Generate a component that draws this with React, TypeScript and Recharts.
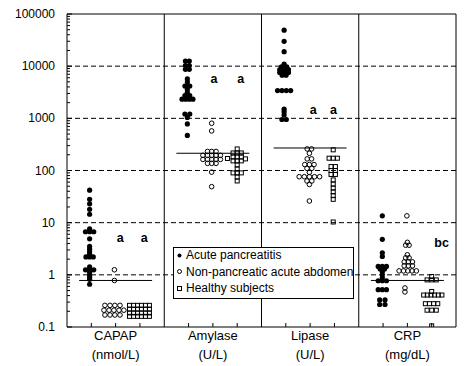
import React from 'react';
import { ScatterChart, Scatter, XAxis, YAxis, ReferenceLine, Legend } from 'recharts';

const FONT = '"Liberation Sans", Arial, sans-serif';

// panels and groups
const panelNames = ['CAPAP', 'Amylase', 'Lipase', 'CRP'];
const panelUnits = ['(nmol/L)', '(U/L)', '(U/L)', '(mg/dL)'];
const panelCenters = [2, 6, 10, 14];
const groupNames = ['Acute pancreatitis', 'Non-pancreatic acute abdomen', 'Healthy subjects'];

// [x position, value]  (x: panel*4 + column 1..3, with jitter)
const capapAcute = [
  [0.93, 42], [0.93, 28], [0.93, 23], [0.93, 18], [0.93, 14.5],
  [0.93, 7.6], [0.76, 6.7], [0.93, 6.7], [1.1, 6.7],
  [0.93, 4.9],
  [0.93, 3.5], [0.93, 3.1], [0.93, 2.75], [0.93, 2.45], [0.78, 2.2], [0.93, 2.2], [1.08, 2.2],
  [0.93, 1.42], [0.76, 1.25], [0.93, 1.25], [1.1, 1.25], [0.93, 1.12], [0.93, 1.0], [0.93, 0.9], [0.93, 0.82],
  [0.93, 0.66],
];
const capapNonPanc = [
  [1.95, 1.25], [1.95, 0.78],
  [1.56, 0.26], [1.77, 0.26], [1.97, 0.26], [2.18, 0.26],
  [1.52, 0.21], [1.73, 0.21], [1.93, 0.21], [2.14, 0.21], [2.34, 0.21],
  [1.56, 0.17], [1.77, 0.17], [1.97, 0.17], [2.18, 0.17],
];
const capapHealthy = [
  [2.57, 0.26], [2.74, 0.26], [2.9, 0.26], [3.06, 0.26], [3.23, 0.26], [3.39, 0.26],
  [2.57, 0.22], [2.74, 0.22], [2.9, 0.22], [3.06, 0.22], [3.23, 0.22], [3.39, 0.22],
  [2.57, 0.186], [2.74, 0.186], [2.9, 0.186], [3.06, 0.186], [3.23, 0.186], [3.39, 0.186],
  [2.57, 0.16], [2.74, 0.16], [2.9, 0.16], [3.06, 0.16], [3.23, 0.16], [3.39, 0.16],
];

const amylaseAcute = [
  [4.87, 12500], [5.03, 12500], [4.87, 10300], [5.03, 10300], [4.87, 8700], [5.03, 8700],
  [4.95, 5700], [4.95, 4960], [4.85, 4170], [4.95, 4170], [5.05, 4170], [4.95, 3600], [4.95, 3150],
  [4.85, 2720], [4.95, 2720], [5.05, 2720],
  [4.73, 2330], [4.88, 2330], [5.03, 2330], [5.18, 2330],
  [4.85, 1210], [5.05, 1210], [4.95, 1040],
  [4.95, 780], [4.95, 470],
];
const amylaseNonPanc = [
  [5.95, 805], [5.95, 574],
  [5.78, 232], [5.95, 232], [6.13, 232],
  [5.59, 195], [5.78, 195], [5.95, 195], [6.13, 195], [6.31, 195],
  [5.59, 163], [5.78, 163], [5.95, 163], [6.13, 163], [6.31, 163],
  [5.78, 137], [5.95, 137], [6.13, 137],
  [5.95, 93], [5.95, 49],
];
const amylaseHealthy = [
  [7.0, 259], [7.0, 217], [7.0, 182], [7.0, 153], [7.0, 128], [7.0, 107], [7.0, 90], [7.0, 75], [7.0, 63],
  [6.83, 217], [6.83, 182], [6.83, 153], [6.83, 90],
  [7.17, 217], [7.17, 182], [7.17, 153], [7.17, 90],
  [7.34, 167], [6.6, 170],
];

const lipaseAcute = [
  [8.93, 49000], [8.93, 30000], [8.93, 19000],
  [8.93, 11000], [8.82, 9700], [8.93, 9700], [9.04, 9700],
  [8.75, 8600], [8.87, 8600], [8.99, 8600], [9.11, 8600],
  [8.75, 7600], [8.87, 7600], [8.99, 7600], [9.11, 7600],
  [8.85, 6700], [9.01, 6700],
  [8.66, 3400], [8.84, 3400], [9.02, 3400], [9.2, 3400],
  [8.93, 1500], [8.93, 1330], [8.93, 1160], [8.84, 950], [9.02, 950],
];
const lipaseNonPanc = [
  [9.88, 259], [10.06, 259], [9.97, 214], [9.88, 167], [10.06, 167],
  [9.78, 130], [9.97, 130], [10.16, 130],
  [9.87, 110], [10.07, 110], [9.97, 92],
  [9.55, 76], [9.76, 76], [9.97, 76], [10.18, 76], [10.39, 76],
  [9.87, 63], [10.07, 63], [9.97, 54], [9.97, 26],
];
const lipaseHealthy = [
  [10.95, 249], [10.78, 172], [10.95, 172], [11.12, 172],
  [10.86, 119], [11.04, 119], [10.86, 100], [11.04, 100], [10.86, 84], [11.04, 84],
  [10.95, 66], [10.95, 55], [10.95, 46], [10.95, 39], [10.95, 33], [10.95, 28],
  [10.95, 10.3],
];

const crpAcute = [
  [12.97, 13.5], [12.97, 4.8], [12.97, 2.65], [12.97, 2.25],
  [12.8, 1.45], [12.97, 1.45], [13.14, 1.45],
  [12.88, 1.3], [13.06, 1.3],
  [12.97, 1.14], [12.97, 1.0], [12.97, 0.88],
  [12.8, 0.77], [12.97, 0.77], [13.14, 0.77],
  [12.8, 0.52], [12.97, 0.52], [13.14, 0.52],
  [12.86, 0.33], [13.08, 0.33], [12.86, 0.27], [13.08, 0.27],
];
const crpNonPanc = [
  [13.98, 13.5],
  [14.0, 4.2], [13.93, 3.7], [14.07, 3.7],
  [14.0, 2.42], [13.93, 2.12], [14.07, 2.12],
  [13.87, 1.77], [14.04, 1.77], [14.21, 1.77],
  [13.87, 1.49], [14.04, 1.49], [14.21, 1.49],
  [13.66, 1.19], [13.84, 1.19], [14.02, 1.19], [14.19, 1.19], [14.37, 1.19],
  [13.9, 0.56], [13.9, 0.47],
];
const crpHealthy = [
  [15.0, 0.93], [14.81, 0.8], [15.0, 0.8], [15.19, 0.8],
  [15.0, 0.48],
  [14.67, 0.41], [14.82, 0.41], [14.97, 0.41], [15.12, 0.41], [15.27, 0.41], [15.42, 0.41],
  [14.74, 0.28], [14.91, 0.28], [15.08, 0.28], [15.25, 0.28],
  [14.81, 0.21], [15.0, 0.21], [15.19, 0.21],
  [15.0, 0.105],
];

// reference cut-off lines, one per panel
const cutoffs = [0.78, 214, 270, 0.78];

// significance letters
const letterText = ['a', 'a', 'a', 'a', 'a', 'a', 'bc'];
const letterX = [2.19, 3.18, 6.05, 7.15, 10.13, 10.96, 15.41];
const letterY = [4.23, 4.23, 4830, 4830, 1213, 1213, 3.49];

const yMajor = [0.1, 1, 10, 100, 1000, 10000, 100000];
const gridValues = [1, 10, 100, 1000, 10000];
const dividers = [4, 8, 12];
const xTicks = [1, 2, 3, 5, 6, 7, 9, 10, 11, 13, 14, 15];

const yTicks: number[] = [];
yMajor.forEach((d, i) => {
  yTicks.push(d);
  if (i < yMajor.length - 1) for (let m = 2; m <= 9; m++) yTicks.push(d * m);
});

const toPts = (arr: number[][]) => arr.map(([x, y]) => ({ x, y }));
const acute = toPts([...capapAcute, ...amylaseAcute, ...lipaseAcute, ...crpAcute]);
const nonPanc = toPts([...capapNonPanc, ...amylaseNonPanc, ...lipaseNonPanc, ...crpNonPanc]);
const healthy = toPts([...capapHealthy, ...amylaseHealthy, ...lipaseHealthy, ...crpHealthy]);
const letters = letterText.map((label, i) => ({ x: letterX[i], y: letterY[i], label }));

const Dot = (p: any) => <circle cx={p.cx} cy={p.cy} r={2.6} fill="#000" />;
const Ring = (p: any) => <circle cx={p.cx} cy={p.cy} r={2.3} fill="none" stroke="#000" strokeWidth={1} />;
const Box = (p: any) => <rect x={p.cx - 2} y={p.cy - 2} width={4} height={4} fill="none" stroke="#000" strokeWidth={1} />;
const Letter = (p: any) => (
  <text x={p.cx} y={p.cy} textAnchor="middle" fontSize={12.5} fontWeight="bold" fontFamily={FONT} fill="#000">
    {p.payload.label}
  </text>
);

function YTick({ x, y, payload }: any) {
  const v = payload.value;
  const major = yMajor.includes(v);
  return (
    <g>
      <line x1={x} x2={x + (major ? 5 : 3)} y1={y} y2={y} stroke="#000" />
      {major && (
        <text x={x - 12} y={y + 4} textAnchor="end" fontSize={12} fontFamily={FONT} fill="#000">
          {String(v)}
        </text>
      )}
    </g>
  );
}

function XTick({ x, y, payload }: any) {
  const i = panelCenters.indexOf(payload.value);
  return (
    <g>
      <line x1={x} x2={x} y1={y} y2={y - 4} stroke="#000" />
      {i >= 0 && (
        <text textAnchor="middle" fontSize={13} fontFamily={FONT} fill="#000">
          <tspan x={x} y={y + 13}>{panelNames[i]}</tspan>
          <tspan x={x} y={y + 32}>{panelUnits[i]}</tspan>
        </text>
      )}
    </g>
  );
}

const legendMarkers = [
  <circle cx={4.5} cy={4.5} r={2} fill="#000" />,
  <circle cx={4.5} cy={4.5} r={2} fill="none" stroke="#000" />,
  <rect x={2.5} y={2.5} width={4} height={4} fill="none" stroke="#000" />,
];

const LegendBox = () => (
  <div
    style={{
      width: 181, height: 52, boxSizing: 'border-box', border: '1px solid #000', background: '#fff',
      overflow: 'hidden', fontFamily: FONT, fontSize: 12, color: '#000', whiteSpace: 'nowrap',
    }}
  >
    <div style={{ marginTop: -1 }}>
      {groupNames.map((name, i) => (
        <div key={name} style={{ display: 'flex', alignItems: 'center', height: 16.6, paddingLeft: 1 }}>
          <svg width={9} height={9} style={{ marginRight: 2, flex: 'none' }}>{legendMarkers[i]}</svg>
          <span>{name}</span>
        </div>
      ))}
    </div>
  </div>
);

export default function App() {
  return (
    <div style={{ position: 'absolute', left: 0, top: 0, background: '#fff' }}>
      <ScatterChart width={464} height={366} margin={{ top: 14, right: 8, bottom: 0, left: 0 }}>
        <XAxis
          type="number" dataKey="x" domain={[0, 16]} ticks={xTicks} interval={0} allowDataOverflow
          height={39} tickSize={0} tickMargin={0} tickLine={false} tick={<XTick />}
          axisLine={{ stroke: '#000' }}
        />
        <YAxis
          type="number" dataKey="y" scale="log" domain={[0.1, 100000]} ticks={yTicks} interval={0}
          allowDataOverflow width={67} tickSize={0} tickMargin={0} tickLine={false} tick={<YTick />}
          axisLine={{ stroke: '#000' }}
        />
        {gridValues.map((v) => (
          <ReferenceLine key={'g' + v} y={v} stroke="#000" strokeDasharray="5 3" />
        ))}
        {dividers.map((v) => (
          <ReferenceLine key={'d' + v} x={v} stroke="#000" />
        ))}
        <ReferenceLine x={16} stroke="#000" />
        <ReferenceLine y={100000} stroke="#000" />
        {cutoffs.map((c, i) => (
          <ReferenceLine
            key={'c' + i}
            segment={[{ x: i * 4 + 0.5, y: c }, { x: i * 4 + 3.5, y: c }]}
            stroke="#000"
          />
        ))}
        <Scatter name={groupNames[0]} data={acute} shape={Dot} isAnimationActive={false} />
        <Scatter name={groupNames[1]} data={nonPanc} shape={Ring} isAnimationActive={false} />
        <Scatter name={groupNames[2]} data={healthy} shape={Box} isAnimationActive={false} />
        <Scatter data={letters} shape={Letter} legendType="none" isAnimationActive={false} />
        <Legend
          layout="vertical" align="center" verticalAlign="middle"
          wrapperStyle={{ left: 173, top: 247, width: 181, height: 52 }}
          content={() => <LegendBox />}
        />
      </ScatterChart>
    </div>
  );
}
